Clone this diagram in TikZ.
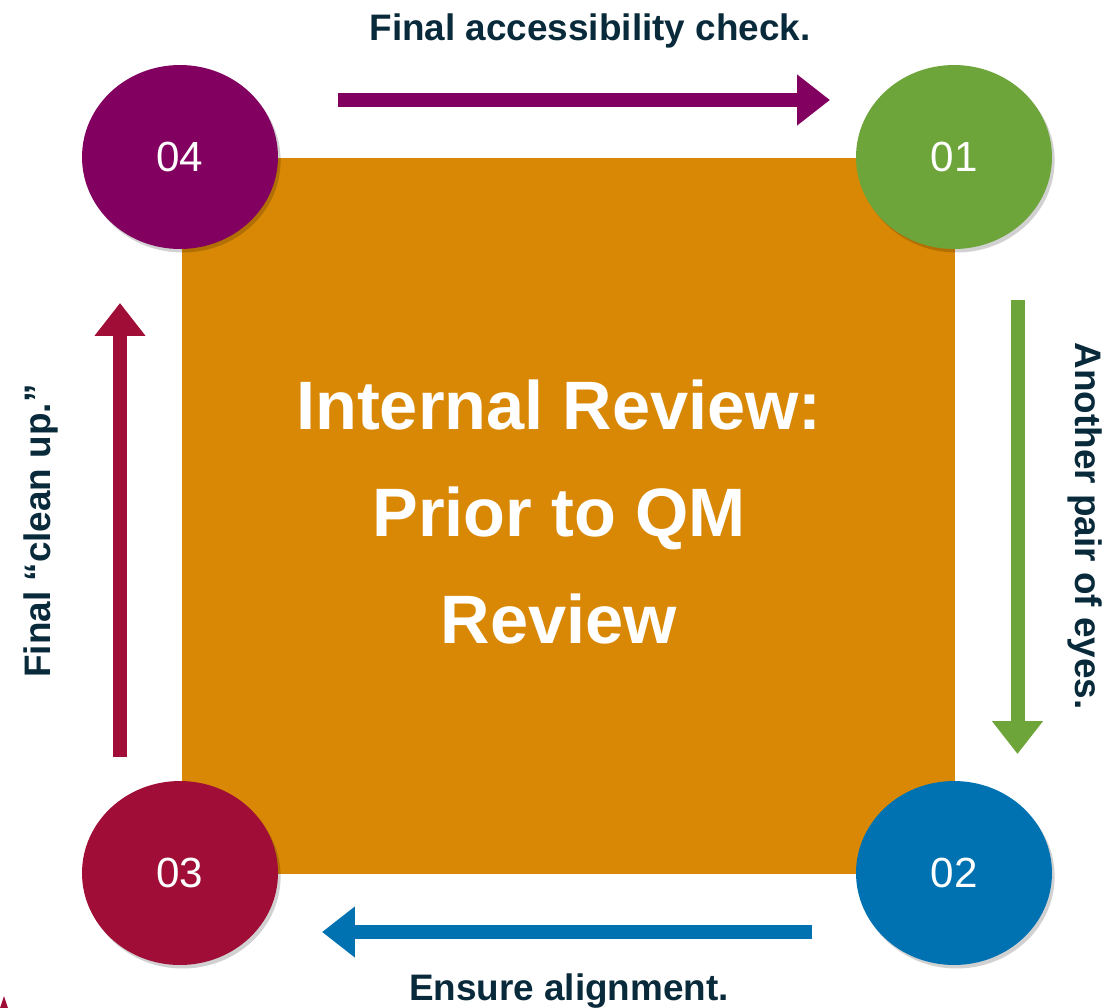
\documentclass[tikz,border=0pt]{standalone}
\usepackage{fontspec}
\setmainfont{Liberation Sans}
\usetikzlibrary{arrows.meta}
\usetikzlibrary{shapes.geometric}
\usetikzlibrary{shadows}

\definecolor{qmpurple}{RGB}{130,0,96}
\definecolor{qmgreen}{RGB}{109,165,59}
\definecolor{qmblue}{RGB}{0,114,178}
\definecolor{qmred}{RGB}{160,13,54}
\definecolor{qmorange}{RGB}{217,136,5}
\definecolor{qmtext}{RGB}{8,42,58}

\begin{document}
\begin{tikzpicture}[x=0.02cm,y=-0.02cm,
    stepdot/.style={ellipse,minimum width=3.92cm,minimum height=3.68cm,inner sep=0pt,
        text=white,font=\fontsize{24}{24}\selectfont,
        drop shadow={shadow xshift=1.5pt,shadow yshift=-2pt,opacity=0.18,fill=black}},
    flow/.style={line width=0.28cm,-{Triangle[width=0.98cm,length=0.66cm]}},
    steplabel/.style={text=qmtext,font=\fontsize{21}{21}\selectfont\bfseries,inner sep=0pt}]
                \useasboundingbox (0,0) rectangle (1110,1008);

                \node[fill=qmorange,minimum width=15.46cm,minimum height=14.32cm,inner sep=0pt] (review) at (568.5,516) {};
                \node[text=white,align=center,font=\fontsize{39}{60.7}\selectfont\bfseries] (reviewtext) at (559,512) {Internal Review:\\Prior to QM\\Review};

                \node[stepdot,fill=qmgreen] (s01) at (954,157) {01};
                \node[stepdot,fill=qmblue] (s02) at (954,873) {02};
                \node[stepdot,fill=qmred] (s03) at (180,873) {03};
                \node[stepdot,fill=qmpurple] (s04) at (180,157) {04};

                \coordinate (a41s) at (338,100);
                \coordinate (a41e) at (830,100);
                \coordinate (a12s) at (1017.5,300);
                \coordinate (a12e) at (1017.5,754);
                \coordinate (a23s) at (812,932);
                \coordinate (a23e) at (322,932);
                \coordinate (a34s) at (120,757);
                \coordinate (a34e) at (120,303);

                \draw[flow,qmpurple] (a41s) -- (a41e);
                \draw[flow,qmgreen] (a12s) -- (a12e);
                \draw[flow,qmblue] (a23s) -- (a23e);
                \draw[flow,qmred] (a34s) -- (a34e);

                \node[steplabel,anchor=base] (l41) at (590,40) {Final accessibility check.};
                \node[steplabel,anchor=base,rotate=-90] (l12) at (1075,526) {Another pair of eyes.};
                \node[steplabel,anchor=base] (l23) at (569,1000) {Ensure alignment.};
                \node[steplabel,anchor=base,rotate=90] (l34) at (51,531) {Final “clean up.”};

                \fill[qmred] (0,1008) -- (4,996) -- (8,1008) -- cycle;
            \end{tikzpicture}
\end{document}
